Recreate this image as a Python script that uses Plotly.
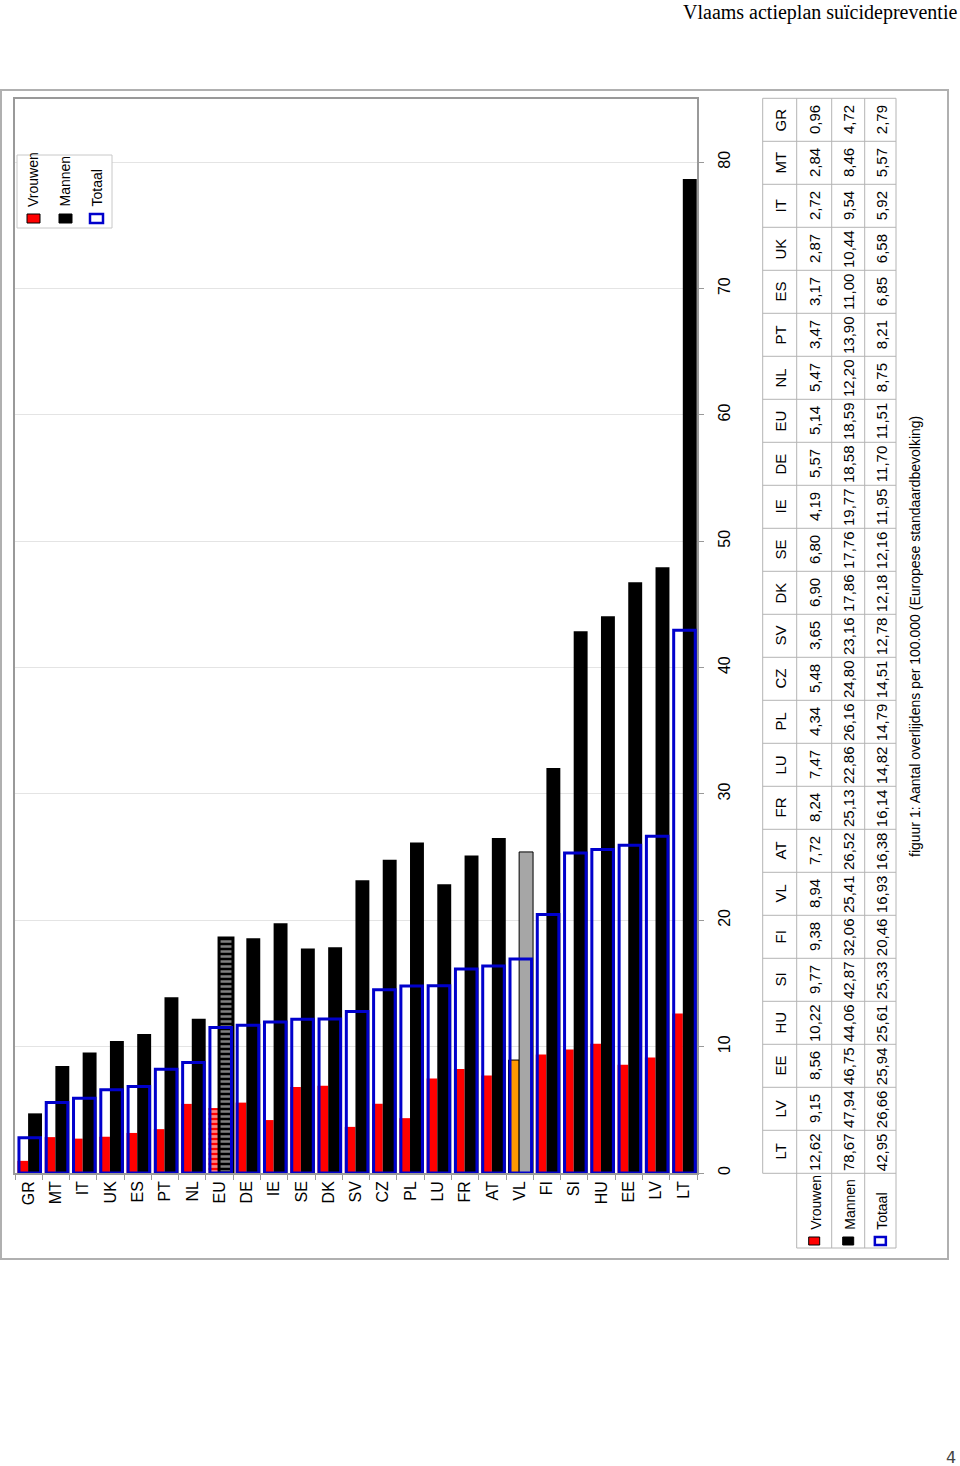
import plotly.graph_objects as go

# ---------------- data ----------------
countries = ["GR", "MT", "IT", "UK", "ES", "PT", "NL", "EU", "DE", "IE", "SE", "DK", "SV",
             "CZ", "PL", "LU", "FR", "AT", "VL", "FI", "SI", "HU", "EE", "LV", "LT"]
vrouwen = [0.96, 2.84, 2.72, 2.87, 3.17, 3.47, 5.47, 5.14, 5.57, 4.19, 6.80, 6.90, 3.65,
           5.48, 4.34, 7.47, 8.24, 7.72, 8.94, 9.38, 9.77, 10.22, 8.56, 9.15, 12.62]
mannen = [4.72, 8.46, 9.54, 10.44, 11.00, 13.90, 12.20, 18.59, 18.58, 19.77, 17.76, 17.86, 23.16,
          24.80, 26.16, 22.86, 25.13, 26.52, 25.41, 32.06, 42.87, 44.06, 46.75, 47.94, 78.67]
totaal = [2.79, 5.57, 5.92, 6.58, 6.85, 8.21, 8.75, 11.51, 11.70, 11.95, 12.16, 12.18, 12.78,
          14.51, 14.79, 14.82, 16.14, 16.38, 16.93, 20.46, 25.33, 25.61, 25.94, 26.66, 42.95]
series_names = ["Vrouwen", "Mannen", "Totaal"]
y_ticks = [0, 10, 20, 30, 40, 50, 60, 70, 80]
header = "Vlaams actieplan suïcidepreventie"
caption = "figuur 1: Aantal overlijdens per 100.000 (Europese standaardbevolking)"
page_no = "4"

# ---------------- styling ----------------
W, H = 960, 1466
L, R, T, B = 15, 697, 99, 1173       # plot area in pixels
FONT = "Liberation Sans Narrow, Arial Narrow, Liberation Sans, Arial, sans-serif"
RED, BLACK, BLUE = "#FF0000", "#000000", "#0000CC"
GRIDC = "#B4B4B4"


def X(px):
    return (px - L) / (R - L)


def Y(py):
    return (B - py) / (B - T)


def fmt(v):
    return f"{v:.2f}".replace(".", ",")


n = len(countries)
v_colors = ["#FF9900" if c == "VL" else RED for c in countries]
m_colors = ["#A6A6A6" if c == "VL" else BLACK for c in countries]
v_lw = [1 if c == "VL" else 0 for c in countries]
m_lw = [1 if c == "VL" else (3 if c == "EU" else 0) for c in countries]
pat_shape = ["-" if c == "EU" else "" for c in countries]

fig = go.Figure()
fig.add_trace(go.Bar(
    x=countries, y=vrouwen, name=series_names[0], offset=-0.41, width=0.39,
    marker=dict(color=v_colors, line=dict(color=BLACK, width=v_lw),
                pattern=dict(shape=pat_shape, fgcolor="#FFFFFF", size=5, solidity=0.55)),
))
fig.add_trace(go.Bar(
    x=countries, y=mannen, name=series_names[1], offset=-0.02, width=0.51,
    marker=dict(color=m_colors, line=dict(color=BLACK, width=m_lw),
                pattern=dict(shape=pat_shape, fgcolor="#C8C8C8", size=5, solidity=0.5)),
))
fig.add_trace(go.Bar(
    x=countries, y=totaal, name=series_names[2], offset=-0.355, width=0.79,
    marker=dict(color="rgba(0,0,0,0)", line=dict(color=BLUE, width=3)),
))

shapes = []
ann = []

# outer frame
shapes.append(dict(type="rect", xref="paper", yref="paper", x0=X(1), x1=X(948), y0=Y(90), y1=Y(1259),
                   line=dict(color="#B0B0B0", width=2), layer="below"))

# legend inside the plot (rotated)
shapes.append(dict(type="rect", xref="paper", yref="paper", x0=X(17), x1=X(112), y0=Y(155), y1=Y(228),
                   line=dict(color="#C8C8C8", width=1), fillcolor="white"))
leg_sym = [(27, 40, 214, 223, RED, BLACK, 1), (59, 72, 214, 223, BLACK, BLACK, 1),
           (90, 103, 214, 223, "white", BLUE, 2.5)]
leg_tx = [33.5, 65, 97]
for i, (x0, x1, y0, y1, fc, lc, lw) in enumerate(leg_sym):
    shapes.append(dict(type="rect", xref="paper", yref="paper", x0=X(x0), x1=X(x1), y0=Y(y0), y1=Y(y1),
                       line=dict(color=lc, width=lw), fillcolor=fc))
    ann.append(dict(x=X(leg_tx[i]), y=Y(209), xref="paper", yref="paper", text=series_names[i],
                    textangle=-90, showarrow=False, xanchor="center", yanchor="bottom",
                    font=dict(family=FONT, size=14, color="black")))

# data table (rotated)
cx = [762.7, 796.7, 831.7, 864.7, 896.0]
ty0, rowh = 98.3, 43.0
ty1 = ty0 + rowh * n
ty2 = 1248.0
lc = dict(color=GRIDC, width=1)
shapes.append(dict(type="line", xref="paper", yref="paper", x0=X(cx[0]), x1=X(cx[0]), y0=Y(ty0), y1=Y(ty1), line=lc))
for xx in cx[1:]:
    shapes.append(dict(type="line", xref="paper", yref="paper", x0=X(xx), x1=X(xx), y0=Y(ty0), y1=Y(ty2), line=lc))
for i in range(n + 1):
    yy = ty0 + i * rowh
    shapes.append(dict(type="line", xref="paper", yref="paper", x0=X(cx[0]), x1=X(cx[-1]), y0=Y(yy), y1=Y(yy), line=lc))
shapes.append(dict(type="line", xref="paper", yref="paper", x0=X(cx[1]), x1=X(cx[-1]), y0=Y(ty2), y1=Y(ty2), line=lc))

cols = [countries, [fmt(v) for v in vrouwen], [fmt(v) for v in mannen], [fmt(v) for v in totaal]]
for j, col in enumerate(cols):
    xc = (cx[j] + cx[j + 1]) / 2 + 1
    for i, txt in enumerate(col):
        yc = ty0 + (i + 0.5) * rowh
        ann.append(dict(x=X(xc), y=Y(yc), xref="paper", yref="paper", text=txt, textangle=-90,
                        showarrow=False, xanchor="center", yanchor="middle",
                        font=dict(family=FONT, size=15, color="black")))

row_sym = [(RED, BLACK, 1), (BLACK, BLACK, 1), ("white", BLUE, 2.5)]
for j in range(3):
    xc = (cx[j + 1] + cx[j + 2]) / 2
    fc, lcol, lw = row_sym[j]
    shapes.append(dict(type="rect", xref="paper", yref="paper", x0=X(xc - 5.5), x1=X(xc + 5.5),
                       y0=Y(1237), y1=Y(1245), line=dict(color=lcol, width=lw), fillcolor=fc))
    ann.append(dict(x=X(xc + 1), y=Y(1232), xref="paper", yref="paper", text=series_names[j], textangle=-90,
                    showarrow=False, xanchor="center", yanchor="bottom",
                    font=dict(family=FONT, size=14, color="black")))

# caption
ann.append(dict(x=X(915), y=Y(637), xref="paper", yref="paper", text=caption, textangle=-90,
                showarrow=False, xanchor="center", yanchor="middle",
                font=dict(family=FONT, size=14, color="black")))
# header
ann.append(dict(x=X(959), y=Y(-1), xref="paper", yref="paper", text=header,
                showarrow=False, xanchor="right", yanchor="top",
                font=dict(family="Liberation Serif, Times New Roman, serif", size=20, color="black")))
# page number
ann.append(dict(x=X(958), y=Y(1469), xref="paper", yref="paper", text=page_no,
                showarrow=False, xanchor="right", yanchor="bottom",
                font=dict(family="DejaVu Sans, sans-serif", size=16, color="#444444")))

fig.update_layout(
    width=W, height=H,
    margin=dict(l=L, r=W - R, t=T, b=H - B, pad=0),
    paper_bgcolor="white", plot_bgcolor="white",
    barmode="overlay", showlegend=False,
    shapes=shapes, annotations=ann,
    font=dict(family=FONT, size=15, color="black"),
)
fig.update_xaxes(
    type="category", categoryorder="array", categoryarray=countries,
    tickangle=-90, tickson="boundaries", ticks="outside", ticklen=5, tickcolor="#999999",
    showline=True, linecolor="#999999", linewidth=1.5, mirror=True,
    showgrid=False, tickfont=dict(family=FONT, size=16, color="black"),
)
fig.update_yaxes(
    side="right", range=[0, 85], tickvals=y_ticks, tickangle=-90,
    ticks="outside", ticklen=5, tickcolor="#999999", ticklabelstandoff=7,
    showline=True, linecolor="#999999", linewidth=1.5, mirror=True,
    showgrid=True, gridcolor="#E4E4E4", gridwidth=1, zeroline=False,
    tickfont=dict(family=FONT, size=16, color="black"),
)

fig.write_html("out.html")
